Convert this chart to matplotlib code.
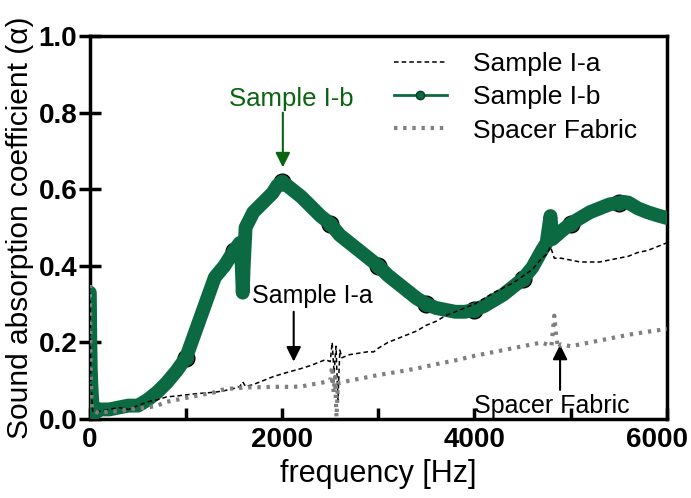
import matplotlib
matplotlib.use("Agg")
import matplotlib.pyplot as plt
import matplotlib.transforms as mtransforms
from matplotlib.lines import Line2D

# ---------------- data ----------------
freq_b = [0, 5, 10, 15, 20, 30, 50, 100, 200, 300, 400, 500, 600, 700, 800, 900,
          1000, 1100, 1200, 1300, 1400, 1500, 1560, 1580, 1590, 1600, 1620, 1700,
          1800, 1900, 1950, 2000, 2050, 2100, 2200, 2300, 2400, 2500, 2600, 2700,
          2800, 2900, 3000, 3100, 3200, 3300, 3400, 3500, 3600, 3700, 3800, 3900,
          4000, 4100, 4200, 4300, 4400, 4500, 4600, 4700, 4750, 4790, 4810, 4900,
          5000, 5100, 5200, 5300, 5400, 5500, 5550, 5600, 5700, 5800, 5900, 6000]
alpha_b = [0.33, 0.20, 0.13, 0.095, 0.068, 0.03, 0.015, 0.025, 0.025, 0.03, 0.035,
           0.035, 0.05, 0.07, 0.095, 0.125, 0.16, 0.23, 0.30, 0.37, 0.40, 0.44,
           0.46, 0.40, 0.33, 0.40, 0.50, 0.54, 0.565, 0.59, 0.61, 0.62, 0.61, 0.60,
           0.58, 0.555, 0.53, 0.51, 0.48, 0.46, 0.44, 0.42, 0.40, 0.375, 0.355,
           0.335, 0.315, 0.30, 0.29, 0.285, 0.28, 0.28, 0.285, 0.295, 0.31, 0.325,
           0.345, 0.365, 0.395, 0.44, 0.46, 0.53, 0.47, 0.49, 0.51, 0.525, 0.54,
           0.55, 0.56, 0.565, 0.567, 0.565, 0.55, 0.54, 0.532, 0.525]

freq_a = [0, 10, 30, 100, 200, 300, 400, 500, 600, 700, 800, 900, 1000, 1100, 1200,
          1300, 1400, 1500, 1560, 1590, 1620, 1700, 1800, 1900, 2000, 2100, 2200,
          2300, 2400, 2450, 2500, 2520, 2540, 2560, 2580, 2600, 2620, 2700, 2800,
          2900, 2950, 3000, 3100, 3200, 3300, 3400, 3500, 3600, 3700, 3800, 3900,
          4000, 4200, 4400, 4600, 4700, 4750, 4790, 4830, 4900, 5000, 5100, 5200,
          5300, 5400, 5500, 5600, 5700, 5800, 5900, 6000]
alpha_a = [0.35, 0.10, 0.02, 0.02, 0.025, 0.03, 0.025, 0.035, 0.045, 0.05, 0.058,
           0.06, 0.063, 0.066, 0.068, 0.07, 0.074, 0.08, 0.085, 0.097, 0.085, 0.09,
           0.10, 0.11, 0.118, 0.125, 0.132, 0.14, 0.15, 0.155, 0.15, 0.20, 0.12,
           0.19, 0.05, 0.18, 0.16, 0.168, 0.172, 0.176, 0.175, 0.185, 0.20, 0.21,
           0.22, 0.23, 0.245, 0.255, 0.27, 0.28, 0.29, 0.30, 0.33, 0.355, 0.39,
           0.42, 0.43, 0.45, 0.42, 0.42, 0.415, 0.41, 0.41, 0.41, 0.415, 0.42,
           0.425, 0.435, 0.44, 0.45, 0.46]

freq_s = [0, 10, 20, 50, 100, 200, 300, 400, 500, 600, 700, 800, 900, 1000, 1100,
          1200, 1300, 1400, 1500, 1600, 1700, 1800, 1900, 2000, 2100, 2200, 2300,
          2400, 2500, 2520, 2535, 2550, 2565, 2580, 2600, 2700, 2800, 2900, 3000,
          3200, 3400, 3600, 3800, 4000, 4200, 4400, 4600, 4700, 4800, 4830, 4850,
          4870, 4900, 5000, 5200, 5400, 5600, 5800, 6000]
alpha_s = [0.35, 0.10, 0.03, 0.02, 0.015, 0.02, 0.02, 0.025, 0.028, 0.03, 0.035,
           0.045, 0.05, 0.055, 0.06, 0.065, 0.07, 0.078, 0.08, 0.082, 0.083, 0.083,
           0.084, 0.084, 0.084, 0.085, 0.09, 0.094, 0.10, 0.137, 0.07, 0.11, 0.005,
           0.09, 0.095, 0.10, 0.105, 0.11, 0.115, 0.123, 0.132, 0.143, 0.153, 0.165,
           0.175, 0.185, 0.195, 0.20, 0.19, 0.27, 0.215, 0.185, 0.195, 0.19, 0.20,
           0.21, 0.22, 0.228, 0.235]

x_ticks = [0, 2000, 4000, 6000]
y_ticks = [0.0, 0.2, 0.4, 0.6, 0.8, 1.0]

GREEN = "#0b6a42"
ANN_GREEN = "#0a6410"

# ---------------- figure ----------------
plt.rcParams['font.family'] = ['Liberation Sans', 'DejaVu Sans']
fig = plt.figure(figsize=(6.91, 4.98), dpi=100)
ax = fig.add_axes([0.130, 0.1586, 0.835, 0.769])

ax.plot(freq_a, alpha_a, color="black", lw=1.1, ls=(0, (3, 2)), zorder=4)
mark_idx = [16, 21, 31, 37, 42, 47, 52, 57, 64, 69]
ax.plot([freq_b[i] for i in mark_idx], [alpha_b[i] for i in mark_idx], ls='none',
        marker='o', ms=12, mfc=GREEN, mec='black', mew=1.0, zorder=2)
ax.plot(freq_b, alpha_b, color=GREEN, lw=10, solid_capstyle='round',
        solid_joinstyle='round', zorder=3)
ax.plot(freq_b[:8], alpha_b[:8], ls='none', marker='o', ms=5, mfc=GREEN, mec=GREEN, zorder=3)
ax.plot(freq_s, alpha_s, color="#7f7f7f", lw=3, ls=(0, (0.8, 1.4)), zorder=4)

handles = [Line2D([], [], color='black', lw=1.1, ls=(0, (3, 2))),
           Line2D([], [], color=GREEN, lw=2, marker='o', ms=6, mfc=GREEN, mec='#063a22'),
           Line2D([], [], color='#7f7f7f', lw=3, ls=(0, (0.8, 1.4)))]
ax.legend(handles, ["Sample I-a", "Sample I-b", "Spacer Fabric"], loc='upper right',
          bbox_to_anchor=(0.99, 1.02), frameon=False, fontsize=19, handlelength=2.0,
          handletextpad=1.0, labelspacing=0.35)

ax.set_xlim(0, 6000)
ax.set_ylim(0, 1.0)
ax.set_xticks(x_ticks)
ax.set_xticks([1000, 3000, 5000], minor=True)
ax.set_yticks(y_ticks)
ax.set_xticklabels([str(v) for v in x_ticks])
ax.set_yticklabels([f"{v:.1f}" for v in y_ticks])

for sp in ax.spines.values():
    sp.set_linewidth(2.5)
ax.tick_params(axis='x', which='both', direction='in', length=8, width=2.5, pad=6)
ax.tick_params(axis='y', which='both', direction='inout', length=16, width=2.5, pad=1)
for lab in ax.get_xticklabels() + ax.get_yticklabels():
    lab.set_fontweight('bold')
    lab.set_fontsize(20)
last = ax.get_xticklabels()[-1]
last.set_transform(last.get_transform() +
                   mtransforms.ScaledTranslation(-10 / 100, 0, fig.dpi_scale_trans))

ax.set_xlabel("frequency [Hz]", fontsize=22, labelpad=4)
ax.set_ylabel("Sound absorption coefficient (\u03b1)", fontsize=21.5, labelpad=3)

arrow = dict(arrowstyle='-|>', mutation_scale=22, lw=1.5, shrinkA=0, shrinkB=0)
ax.annotate("", xy=(2007, 0.657), xytext=(2007, 0.80),
            arrowprops=dict(arrow, color=ANN_GREEN))
ax.text(2100, 0.835, "Sample I-b", color=ANN_GREEN, fontsize=18.5, ha='center', va='center')
ax.annotate("", xy=(2120, 0.15), xytext=(2120, 0.28),
            arrowprops=dict(arrow, color='black'))
ax.text(2310, 0.32, "Sample I-a", color='black', fontsize=18, ha='center', va='center')
ax.annotate("", xy=(4890, 0.194), xytext=(4890, 0.076),
            arrowprops=dict(arrow, color='black'))
ax.text(4805, 0.034, "Spacer Fabric", color='black', fontsize=18, ha='center', va='center')

fig.savefig("out.png", dpi=100)
